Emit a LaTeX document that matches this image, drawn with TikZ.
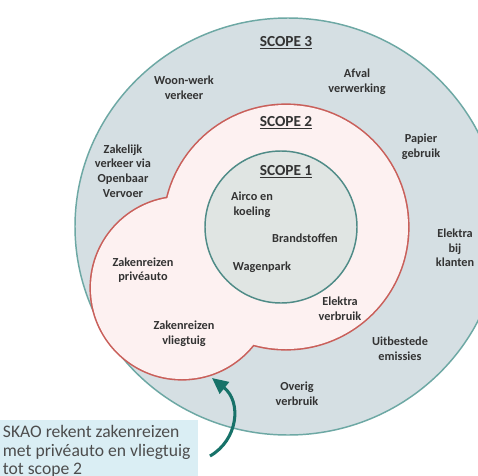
\documentclass[tikz,border=0pt]{standalone}
\usepackage{fontspec}
\setmainfont{Carlito}
\usepackage{tikz}
\usetikzlibrary{arrows.meta}

\definecolor{ringfill}{HTML}{D5DFE3}
\definecolor{ringline}{HTML}{6DA8A4}
\definecolor{midfill}{HTML}{FDF1F1}
\definecolor{midline}{HTML}{C95F5A}
\definecolor{corefill}{HTML}{E0E5E3}
\definecolor{coreline}{HTML}{4F8B87}
\definecolor{notefill}{HTML}{DAEEF4}
\definecolor{arrowteal}{HTML}{177269}
\definecolor{txtgrey}{HTML}{333333}
\definecolor{notetxt}{HTML}{4D4D4D}

\begin{document}
\begin{tikzpicture}[x=0.75pt, y=-0.75pt,
	lbl/.style={align=center, text=txtgrey, inner sep=0pt, font=\fontsize{9.2}{11}\selectfont\bfseries},
	scopelbl/.style={text=txtgrey, inner sep=0pt, font=\fontsize{11.5}{13}\selectfont\bfseries}]
	\path[use as bounding box, fill=white] (0,0) rectangle (478,475);
	\clip (0,0) rectangle (478,475);

	% scope 3
	\fill[ringfill] (288,226.5) ellipse [x radius=213, y radius=208.5];
	\draw[ringline, line width=1.1pt] (288,226.5) ellipse [x radius=213, y radius=208.5];

	% scope 2: circle with a bulge
	\draw[midline, line width=2.4pt] (286,227) circle (122) (182,288) circle (91);
	\fill[midfill] (286,227) circle (122) (182,288) circle (91);

	% scope 1
	\fill[corefill] (281,227) circle (76);
	\draw[coreline, line width=1.1pt] (281,227) circle (76);

	\node[scopelbl] (scopeC) at (286,43) {\underline{SCOPE 3}};
	\node[scopelbl] (scopeB) at (286,123) {\underline{SCOPE 2}};
	\node[scopelbl] (scopeA) at (286,172) {\underline{SCOPE 1}};

	\node[lbl] (woonwerk) at (184,88) {Woon-werk\\verkeer};
	\node[lbl] (afval) at (357,82) {Afval\\verwerking};
	\node[lbl] (papier) at (421,147) {Papier\\gebruik};
	\node[lbl] (zakelijk) at (123,171) {Zakelijk\\verkeer via\\Openbaar\\Vervoer};
	\node[lbl] (klanten) at (455,248) {Elektra\\bij\\klanten};
	\node[lbl] (uitbesteed) at (400,349) {Uitbestede\\emissies};
	\node[lbl] (overig) at (297,394) {Overig\\verbruik};

	\node[lbl] (auto) at (143,270) {Zakenreizen\\privéauto};
	\node[lbl] (vlieg) at (184,334) {Zakenreizen\\vliegtuig};
	\node[lbl] (elektra) at (340,309) {Elektra\\verbruik};

	\node[lbl] (airco) at (252,205) {Airco en\\koeling};
	\node[lbl] (brand) at (305,238) {Brandstoffen};
	\node[lbl] (wagen) at (262,267) {Wagenpark};

	% note in the corner
	\node[fill=notefill, anchor=north west, inner xsep=2pt, inner ysep=4pt,
		text width=144.5pt, align=flush left, text=notetxt,
		font=\fontsize{13.2}{13.9}\selectfont] (note) at (0,420)
		{SKAO rekent zakenreizen\\met privéauto en vliegtuig\\tot scope 2};

	\coordinate (tail) at (210,456);
	\coordinate (tip) at (212,378);
	\draw[arrowteal, line width=2.3pt, -{Triangle[length=12pt, width=11pt]}]
		(tail) .. controls (238,440) and (242,402) .. (tip);
\end{tikzpicture}
\end{document}
